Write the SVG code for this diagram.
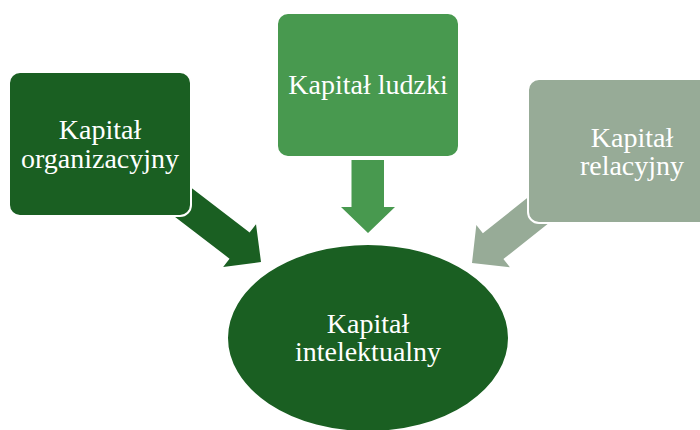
<svg xmlns="http://www.w3.org/2000/svg" width="700" height="430" viewBox="0 0 700 430">
  <defs>
    <style>
      .box { stroke: #ffffff; stroke-width: 2; }
      .dark { fill: #1a5f22; }
      .mid { fill: #48994f; }
      .grey { fill: #97ab97; }
    </style>
    <path id="arrow" d="M -110,-16.5 L -27,-16.5 L -27,-27 L 0,0 L -27,27 L -27,16.5 L -110,16.5 Z"/>
  </defs>
  <rect width="700" height="430" fill="#ffffff"/>
  <g id="connectors">
    <use href="#arrow" class="dark" transform="translate(261,262) rotate(37.5)"/>
    <path class="mid" d="M 351.5,160 L 384,160 L 384,207 L 395,207 L 368,233 L 341,207 L 351.5,207 Z"/>
    <use href="#arrow" class="grey" transform="translate(472,263) rotate(141.5)"/>
  </g>
  <g id="node-organizacyjny">
    <rect class="box dark" x="9" y="72" width="182" height="144" rx="11"/>
    <text x="100" y="139" font-family="Liberation Serif, serif" font-size="28" fill="#ffffff" text-anchor="middle">Kapitał</text>
    <text x="100" y="168" font-family="Liberation Serif, serif" font-size="28" fill="#ffffff" text-anchor="middle">organizacyjny</text>
  </g>
  <g id="node-ludzki">
    <rect class="box mid" x="277" y="13" width="182" height="144" rx="11"/>
    <text x="368" y="94" font-family="Liberation Serif, serif" font-size="28" fill="#ffffff" text-anchor="middle">Kapitał ludzki</text>
  </g>
  <g id="node-relacyjny">
    <rect class="box grey" x="528" y="79" width="190" height="144" rx="11"/>
    <text x="632" y="147" font-family="Liberation Serif, serif" font-size="28" fill="#ffffff" text-anchor="middle">Kapitał</text>
    <text x="632" y="175" font-family="Liberation Serif, serif" font-size="28" fill="#ffffff" text-anchor="middle">relacyjny</text>
  </g>
  <g id="node-intelektualny">
    <ellipse class="box dark" cx="368" cy="338" rx="141" ry="94"/>
    <text x="368" y="333" font-family="Liberation Serif, serif" font-size="28" fill="#ffffff" text-anchor="middle">Kapitał</text>
    <text x="368" y="361" font-family="Liberation Serif, serif" font-size="28" fill="#ffffff" text-anchor="middle">intelektualny</text>
  </g>
</svg>
